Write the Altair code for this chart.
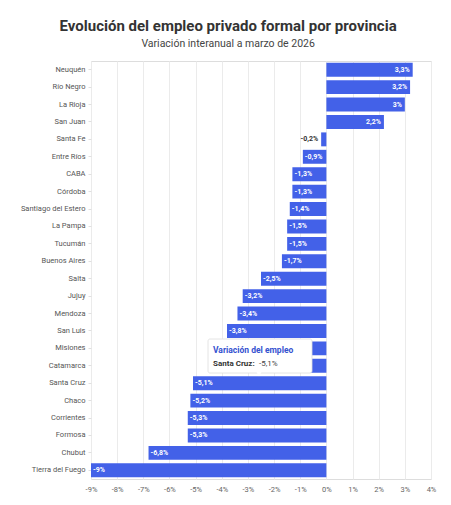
import altair as alt
import pandas as pd

provincias = ["Neuquén", "Río Negro", "La Rioja", "San Juan", "Santa Fe", "Entre Ríos",
              "CABA", "Córdoba", "Santiago del Estero", "La Pampa", "Tucumán", "Buenos Aires",
              "Salta", "Jujuy", "Mendoza", "San Luis", "Misiones", "Catamarca", "Santa Cruz",
              "Chaco", "Corrientes", "Formosa", "Chubut", "Tierra del Fuego"]
variacion = [3.3, 3.2, 3.0, 2.2, -0.2, -0.9, -1.3, -1.3, -1.4, -1.5, -1.5, -1.7,
             -2.5, -3.2, -3.4, -3.8, -4.1, -4.4, -5.1, -5.2, -5.3, -5.3, -6.8, -9.0]
x_ticks = list(range(-9, 5))


def fmt(v):
    s = ("%.1f" % v).rstrip("0").rstrip(".")
    return s.replace(".", ",") + "%"


df = pd.DataFrame({"provincia": provincias, "valor": variacion})
df["etiqueta"] = [fmt(v) for v in variacion]
df["dentro"] = [abs(v) >= 0.5 for v in variacion]

FONT = "Roboto"
BLUE = "#4361e8"

x_enc = alt.X("valor:Q",
              scale=alt.Scale(domain=[-9, 4], nice=False),
              axis=alt.Axis(values=x_ticks, labelExpr="datum.value + '%'", title=None,
                            domain=False, ticks=False, labelFontSize=7.5, labelColor="#666",
                            labelFont=FONT, gridColor="#ebebeb", labelPadding=6,
                            labelOverlap=False, labelFlush=False))
y_enc = alt.Y("provincia:N", sort=provincias,
              scale=alt.Scale(paddingInner=0.2, paddingOuter=0.1),
              axis=alt.Axis(title=None, domain=False, ticks=True, tickSize=3,
                            tickColor="#e0e0e0", labelFontSize=7.5, labelColor="#555",
                            labelFont=FONT, labelPadding=3, grid=False))

base = alt.Chart(df)

bars = base.mark_bar(color=BLUE).encode(
    x=x_enc, x2=alt.datum(0), y=y_enc
)

pos_in = base.transform_filter("datum.valor > 0").mark_text(
    align="right", dx=-3, color="white", fontSize=7, fontWeight="bold", font=FONT
).encode(x=x_enc, y=y_enc, text="etiqueta:N")

neg_in = base.transform_filter("datum.valor < 0 && datum.dentro").mark_text(
    align="left", dx=2, color="white", fontSize=7, fontWeight="bold", font=FONT
).encode(x=x_enc, y=y_enc, text="etiqueta:N")

neg_out = base.transform_filter("datum.valor < 0 && !datum.dentro").mark_text(
    align="right", dx=-3, color="#333", fontSize=7, fontWeight="bold", font=FONT
).encode(x=x_enc, y=y_enc, text="etiqueta:N")

# hover tooltip shown in the reference (static annotation)
tip_box = alt.Chart(pd.DataFrame({"a": [0]})).mark_rect(
    fill="white", stroke="#dddddd", strokeWidth=0.8, cornerRadius=2
).encode(x=alt.value(117), x2=alt.value(221), y=alt.value(278), y2=alt.value(312))
tip_arrow = alt.Chart(pd.DataFrame({"a": [0]})).mark_point(
    shape="triangle-down", filled=True, fill="white", size=30, opacity=1
).encode(x=alt.value(168), y=alt.value(313))
tip_title = alt.Chart(pd.DataFrame({"t": ["Variación del empleo"]})).mark_text(
    align="left", baseline="alphabetic", fontSize=8.5, fontWeight="bold",
    color="#3552d0", font=FONT
).encode(x=alt.value(122), y=alt.value(292), text="t:N")
tip_name = alt.Chart(pd.DataFrame({"t": ["Santa Cruz:"]})).mark_text(
    align="left", baseline="alphabetic", fontSize=8, fontWeight="bold",
    color="#333", font=FONT
).encode(x=alt.value(122), y=alt.value(305), text="t:N")
tip_val = alt.Chart(pd.DataFrame({"t": ["-5,1%"]})).mark_text(
    align="left", baseline="alphabetic", fontSize=8, color="#444", font=FONT
).encode(x=alt.value(168), y=alt.value(305), text="t:N")

chart = alt.layer(bars, pos_in, neg_in, neg_out,
                  tip_box, tip_arrow, tip_title, tip_name, tip_val).properties(
    width=340, height=418,
    autosize=alt.AutoSizeParams(type="none"),
    padding={"left": 83, "top": 53, "right": 12, "bottom": 26},
    title=alt.TitleParams(
        text="Evolución del empleo privado formal por provincia",
        subtitle="Variación interanual a marzo de 2026",
        anchor="middle", frame="bounds", font=FONT, fontSize=15, fontWeight="bold",
        color="#333", subtitleFont=FONT, subtitleFontSize=10.5, subtitleColor="#444",
        offset=12, subtitlePadding=5
    )
).configure_view(stroke=None).configure(background="white")

chart.save("out.html", embed_options={"renderer": "svg", "actions": False})
